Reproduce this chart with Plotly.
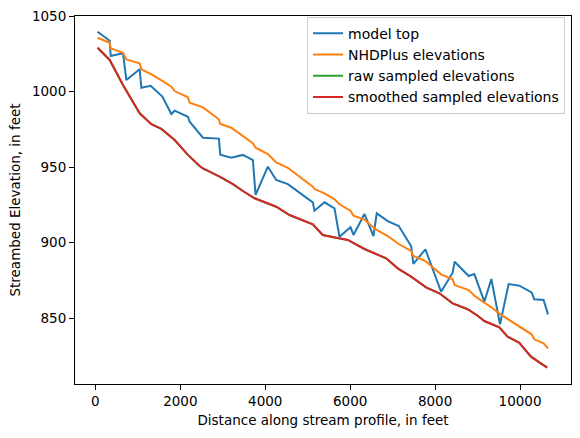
import plotly.graph_objects as go

# distances (feet) shared by model top and NHDPlus series
dist = [50, 336, 360, 649, 729, 1042, 1082, 1301, 1576, 1788, 1866, 2179, 2219, 2532,
        2908, 2941, 3200, 3473, 3708, 3772, 4061, 4259, 4532, 5120, 5160, 5395, 5631,
        5748, 6007, 6078, 6336, 6548, 6626, 6885, 7144, 7435, 7489, 7772, 8141, 8414,
        8461, 8791, 8925, 9160, 9325, 9529, 9732, 9984, 10273, 10336, 10555, 10660]

model_top = [1039.6, 1033.6, 1023.5, 1025.3, 1007.6, 1014.7, 1002.5, 1003.8, 996.6, 985.1,
             987.3, 983.3, 980.0, 969.4, 968.8, 958.2, 956.2, 958.0, 954.6, 931.5, 950.2,
             941.4, 938.7, 926.6, 921.1, 926.6, 922.6, 903.8, 910.1, 905.0, 918.9, 904.3,
             919.3, 914.2, 910.9, 897.7, 885.8, 895.5, 867.4, 880.0, 887.3, 877.8, 879.1,
             860.8, 875.8, 845.8, 872.5, 871.4, 867.0, 862.4, 861.9, 852.4]

nhdplus = [1035.6, 1032.3, 1028.6, 1025.7, 1021.3, 1018.7, 1014.7, 1011.6, 1007.0, 1003.2,
           1000.3, 996.2, 992.6, 989.5, 981.6, 978.5, 976.0, 970.7, 965.7, 962.8, 958.6,
           953.0, 949.5, 937.0, 935.4, 932.6, 928.6, 925.3, 921.1, 917.8, 915.2, 910.0,
           908.3, 904.3, 899.0, 894.4, 891.1, 887.7, 878.9, 875.6, 871.8, 868.5, 864.8,
           860.1, 857.1, 852.6, 849.1, 844.7, 839.2, 835.9, 833.2, 829.9]

# sampled elevations
sample_dist = [50, 336, 649, 1042, 1318, 1553, 1866, 2179, 2454, 2532, 2925, 3238, 3473,
               3748, 4259, 4572, 5120, 5355, 5671, 5944, 6336, 6847, 7120, 7435, 7788,
               8101, 8414, 8767, 9002, 9160, 9513, 9708, 9984, 10259, 10640]
raw_sampled = [1029.0, 1020.9, 1004.3, 985.6, 978.3, 975.2, 967.9, 958.0, 950.7, 949.1,
               943.6, 938.7, 934.1, 929.3, 923.7, 918.2, 912.0, 905.0, 903.2, 901.7, 895.7,
               889.5, 882.9, 877.4, 870.3, 866.4, 859.7, 855.8, 851.5, 848.0, 843.8, 837.6,
               833.6, 824.4, 817.1]
smoothed_sampled = list(raw_sampled)

x_ticks = [0, 2000, 4000, 6000, 8000, 10000]
x_tick_labels = ["0", "2000", "4000", "6000", "8000", "10000"]
y_ticks = [850, 900, 950, 1000, 1050]
y_tick_labels = ["850", "900", "950", "1000", "1050"]

fig = go.Figure()
fig.add_trace(go.Scatter(x=dist, y=model_top, mode="lines", name="model top",
                         line=dict(color="#1f77b4", width=2)))
fig.add_trace(go.Scatter(x=dist, y=nhdplus, mode="lines", name="NHDPlus elevations",
                         line=dict(color="#ff7f0e", width=2)))
fig.add_trace(go.Scatter(x=sample_dist, y=raw_sampled, mode="lines", name="raw sampled elevations",
                         line=dict(color="#2ca02c", width=2)))
fig.add_trace(go.Scatter(x=sample_dist, y=smoothed_sampled, mode="lines",
                         name="smoothed sampled elevations",
                         line=dict(color="#d62728", width=2)))

axis_common = dict(showline=True, linecolor="black", linewidth=1, mirror=True,
                   ticks="outside", ticklen=5, tickcolor="black", showgrid=False,
                   zeroline=False, automargin=False, tickfont=dict(size=13.5, color="black"))

fig.update_layout(
    width=580, height=438,
    margin=dict(l=75, r=9, t=16, b=54),
    paper_bgcolor="white", plot_bgcolor="white",
    font=dict(family="DejaVu Sans", size=13.5, color="black"),
    xaxis=dict(range=[-481, 11201], tickvals=x_ticks, ticktext=x_tick_labels,
               title=dict(text="Distance along stream profile, in feet", standoff=7,
                          font=dict(size=13.5)),
               **axis_common),
    yaxis=dict(range=[806.3, 1050], tickvals=y_ticks, ticktext=y_tick_labels,
               title=dict(text="Streambed Elevation, in feet", standoff=8,
                          font=dict(size=13.5)),
               **axis_common),
    legend=dict(x=0.988, y=0.998, xanchor="right", yanchor="top",
                bgcolor="rgba(255,255,255,0.8)", bordercolor="#cccccc", borderwidth=1,
                font=dict(size=14), tracegroupgap=0),
    showlegend=True,
)

fig.write_html("out.html", config={"displayModeBar": False},
               post_script="document.body.style.margin='0';")
